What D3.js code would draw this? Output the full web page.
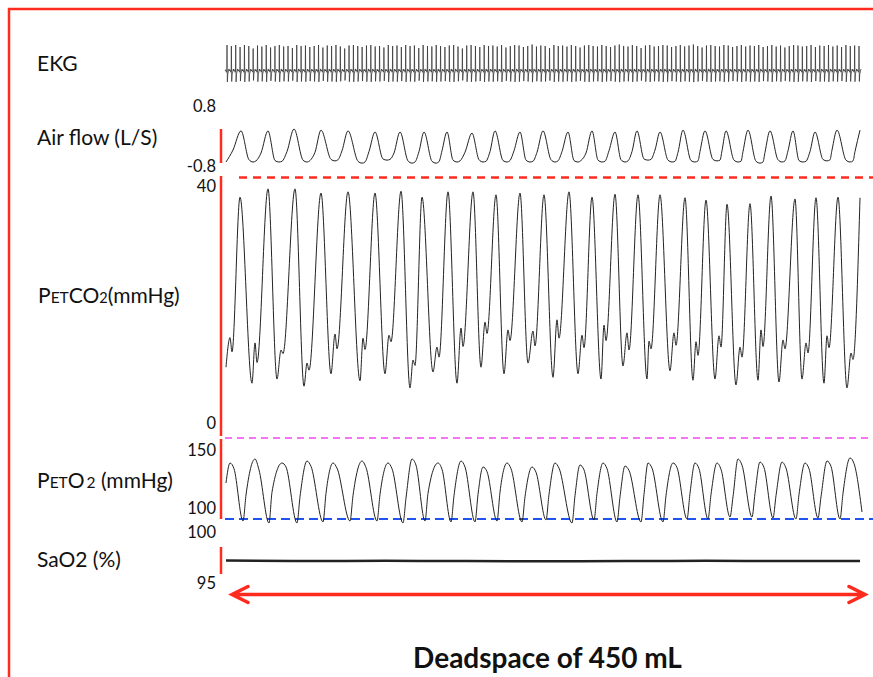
<!DOCTYPE html>
<html>
<head>
<meta charset="utf-8">
<script src="https://cdn.jsdelivr.net/npm/d3@7"></script>
<style>
  body { margin: 0; background: #fff; }
  svg { display: block; font-family: Lato, "Open Sans", sans-serif; }
</style>
</head>
<body>
<div class="plot"></div>
<script>
// time axis: seconds from start of the recording (0 - 63.4 s)

// EKG: R-wave amplitude (mV) of each beat, left to right
const ekgR = [
  1.04, 1.0, 1.04, 0.96, 1.04, 1.0, 0.9, 1.02, 0.98, 1.04, 0.94, 1.0, 1.04, 0.98, 1.0, 0.92, 1.04, 1.0, 1.02, 0.96,
  1.0, 1.04, 0.94, 1.02, 1.0, 1.04, 0.98, 0.9, 1.02, 1.04, 1.0, 0.96, 1.02, 1.04, 0.98, 1.0, 0.94, 1.04, 1.0, 1.02,
  0.96, 1.04, 1.0, 1.02, 0.92, 1.04, 1.0, 0.98, 1.04, 1.0, 0.96, 1.02, 1.04, 0.98, 0.9, 1.02, 1.04, 1.0, 0.96, 1.04,
  1.0, 1.02, 0.98, 1.04, 0.94, 1.0, 1.04, 1.02, 0.96, 1.0, 1.06, 0.98, 1.02, 1.0, 0.92, 1.04, 1.0, 1.02, 0.98, 1.04,
  1.0, 0.94, 1.02, 1.04, 1.0, 0.98, 1.04, 1.0, 0.96, 1.02, 1.06, 1.0, 0.98, 1.04, 1.0, 0.92, 1.02, 1.04, 0.98, 1.0,
  1.04, 1.02, 0.96, 1.0, 1.04, 0.98, 1.02, 1.06, 1.0, 0.94, 1.02, 1.04, 1.0, 0.98, 1.04, 1.02, 0.96, 1.0, 1.04, 0.98,
  1.02, 1.0, 1.04, 0.96, 1.0, 1.04, 0.98, 1.02, 0.94, 1.0, 1.04, 1.02, 0.98, 1.0, 1.04, 0.96, 1.02, 1.0, 1.04, 0.98,
  1.02, 0.96, 1.04, 1.0, 1.02, 1.0
];
// one beat (phase within the R-R interval, level relative to R)
const beatPhase = [-0.45, -0.3, -0.15, -0.05, 0, 0.08, 0.18, 0.3, 0.45];
const beatLevel = [0, 0.05, -0.05, 0, 1, -0.42, -0.12, -0.04, 0.08];

// Air flow (L/S)
const flowStart = [0, -0.68];
const flowPeakT = [1.5, 4.2, 6.8, 9.5, 12.2, 14.9, 17.4, 19.8, 22.1, 24.6, 26.9, 29.4, 31.7, 34.2, 36.6, 38.9, 41.1, 43.4, 45.7, 47.9, 50.0, 52.2, 54.4, 56.7, 58.9, 61.1, 63.4];
const flowPeakV = [0.15, 0.15, 0.20, 0.17, 0.15, 0.12, 0.12, 0.12, 0.12, 0.09, 0.15, 0.12, 0.15, 0.12, 0.15, 0.12, 0.15, 0.12, 0.17, 0.15, 0.15, 0.17, 0.15, 0.15, 0.12, 0.17, 0.17];
const flowLowStartT = [2.3, 4.9, 7.7, 10.5, 13.2, 15.7, 18.2, 20.6, 22.7, 25.3, 27.7, 30.0, 32.5, 34.8, 37.2, 39.5, 41.8, 44.2, 46.5, 48.7, 50.8, 53.0, 55.2, 57.3, 59.7, 62.0];
const flowLowStartV = [-0.62, -0.64, -0.63, -0.61, -0.66, -0.60, -0.65, -0.66, -0.63, -0.62, -0.64, -0.63, -0.62, -0.64, -0.63, -0.62, -0.60, -0.63, -0.64, -0.61, -0.63, -0.66, -0.62, -0.64, -0.61, -0.63];
const flowTroughT = [2.7, 5.3, 8.1, 10.9, 13.6, 16.1, 18.6, 21.0, 23.1, 25.7, 28.1, 30.4, 32.9, 35.2, 37.6, 39.9, 42.2, 44.6, 46.9, 49.1, 51.2, 53.4, 55.6, 57.7, 60.1, 62.4];
const flowTroughV = [-0.68, -0.68, -0.68, -0.65, -0.71, -0.63, -0.71, -0.71, -0.68, -0.68, -0.68, -0.68, -0.68, -0.68, -0.68, -0.68, -0.63, -0.68, -0.68, -0.65, -0.68, -0.71, -0.68, -0.68, -0.65, -0.68];
const flowLowEndT = [3.0, 5.6, 8.4, 11.2, 13.9, 16.4, 18.9, 21.3, 23.4, 26.0, 28.4, 30.7, 33.2, 35.5, 37.9, 40.2, 42.5, 44.9, 47.2, 49.4, 51.5, 53.7, 55.9, 58.0, 60.4, 62.7];
const flowLowEndV = [-0.65, -0.66, -0.64, -0.62, -0.68, -0.61, -0.68, -0.67, -0.65, -0.66, -0.64, -0.66, -0.65, -0.64, -0.66, -0.65, -0.61, -0.66, -0.65, -0.63, -0.66, -0.68, -0.65, -0.66, -0.62, -0.65];
const flowShoulderT = [0.7, 3.5, 6.1, 8.9, 11.6, 14.3, 16.8, 19.3, 21.6, 23.9, 26.4, 28.8, 31.1, 33.6, 36.0, 38.3, 40.6, 42.9, 45.2, 47.4, 49.6, 51.7, 53.9, 56.2, 58.4, 60.6, 62.9];
const flowShoulderV = [-0.36, -0.44, -0.40, -0.42, -0.38, -0.40, -0.44, -0.40, -0.38, -0.42, -0.40, -0.38, -0.42, -0.40, -0.44, -0.38, -0.40, -0.36, -0.42, -0.40, -0.38, -0.40, -0.42, -0.38, -0.40, -0.36, -0.40];

// PETCO2 (mmHg)
const co2Start = [[0, 9.5], [0.4, 14.5], [0.6, 12.1]];
const co2PeakT = [1.4, 4.2, 6.9, 9.5, 12.2, 14.9, 17.5, 19.6, 22.2, 24.7, 27.0, 29.4, 31.8, 34.3, 36.6, 38.9, 41.2, 43.4, 45.9, 48.0, 50.1, 52.4, 54.5, 56.9, 59.0, 61.2, 63.4];
const co2PeakV = [38.2, 39.6, 39.6, 38.9, 39.1, 38.9, 39.2, 38.2, 39.1, 39.1, 38.6, 38.9, 38.6, 39.1, 38.2, 38.7, 38.6, 38.6, 38.1, 37.7, 37.0, 37.1, 38.4, 37.9, 38.1, 38.2, 38.1];
const co2TroughT = [2.6, 5.1, 7.8, 10.5, 13.4, 15.9, 18.4, 20.7, 23.1, 25.5, 27.8, 30.2, 32.7, 35.2, 37.5, 39.7, 42.1, 44.4, 46.7, 48.9, 51.0, 53.2, 55.3, 57.6, 59.8, 62.1];
const co2TroughV = [6.8, 7.5, 6.3, 8.4, 7.2, 8.4, 6.0, 8.7, 6.8, 9.5, 8.4, 10.2, 7.8, 8.4, 7.5, 9.7, 7.5, 8.9, 7.3, 7.5, 6.5, 7.3, 7.0, 7.5, 6.8, 6.0];
const co2BumpT = [2.9, 5.5, 8.1, 10.9, 13.7, 16.3, 18.7, 21.1, 23.5, 25.9, 28.2, 30.7, 33.1, 35.6, 37.8, 40.1, 42.3, 44.8, 47.0, 49.3, 51.4, 53.5, 55.7, 58.0, 60.1, 62.5];
const co2BumpV = [13.6, 12.4, 10.2, 15.1, 14.4, 14.9, 10.7, 12.9, 16.1, 17.1, 15.8, 15.6, 17.5, 14.9, 16.6, 15.3, 13.9, 15.3, 13.8, 14.8, 12.9, 15.8, 14.1, 13.6, 14.8, 11.9];
const co2DipT = [3.1, 5.7, 8.3, 11.1, 13.9, 16.5, 18.9, 21.3, 23.7, 26.1, 28.4, 30.9, 33.3, 35.8, 38.0, 40.3, 42.5, 45.0, 47.2, 49.5, 51.6, 53.7, 55.9, 58.2, 60.3, 62.7];
const co2DipV = [10.3, 11.8, 9.0, 12.6, 12.5, 13.8, 9.8, 11.2, 13.0, 15.2, 14.0, 13.1, 14.4, 12.8, 14.0, 12.4, 12.6, 13.2, 11.5, 12.9, 11.2, 13.0, 12.6, 11.9, 12.8, 10.8];

// PETO2 (mmHg)
const o2Ends = [[0, 121.8], [63.6, 97.0]];
const o2PeakT = [0.4, 2.9, 5.6, 8.1, 10.7, 13.6, 16.2, 18.6, 21.2, 23.5, 25.7, 28.1, 30.6, 32.9, 35.4, 37.7, 39.9, 42.2, 44.7, 46.9, 49.1, 51.2, 53.4, 55.6, 57.9, 60.1, 62.4];
const o2PeakV = [138.9, 142.3, 138.9, 140.6, 138.9, 140.6, 138.9, 142.3, 138.9, 140.6, 135.5, 138.9, 135.5, 138.9, 137.2, 138.9, 136.3, 138.9, 138.9, 138.9, 138.9, 142.3, 139.7, 139.7, 138.9, 140.6, 143.2];
const o2PlateauT = [0.8, 3.3, 6.0, 8.5, 11.1, 14.0, 16.6, 19.0, 21.6, 23.9, 26.1, 28.5, 31.0, 33.3, 35.8, 38.1, 40.3, 42.6, 45.1, 47.3, 49.5, 51.6, 53.8, 56.0, 58.3, 60.5, 62.8];
const o2PlateauV = [134.0, 133.0, 135.5, 136.0, 134.5, 135.0, 134.0, 137.0, 133.5, 135.5, 131.5, 134.0, 131.0, 134.5, 133.0, 134.0, 132.5, 134.5, 135.0, 134.0, 133.5, 137.0, 135.0, 134.5, 134.0, 136.0, 138.5];
const o2TroughT = [1.7, 4.3, 7.1, 9.7, 12.4, 15.1, 17.7, 19.9, 22.5, 24.9, 27.1, 29.6, 32.0, 34.6, 36.8, 39.1, 41.5, 43.7, 46.1, 48.2, 50.4, 52.6, 54.7, 57.0, 59.2, 61.4];
const o2TroughV = [89.3, 87.6, 87.6, 88.5, 89.3, 89.3, 87.6, 89.3, 88.5, 88.5, 89.3, 88.5, 90.2, 87.6, 90.2, 88.5, 88.5, 88.5, 91.0, 91.0, 92.7, 92.7, 91.9, 91.0, 91.9, 91.0];
const o2KneeT = [2.0, 4.6, 7.4, 10.0, 12.7, 15.4, 18.0, 20.2, 22.8, 25.2, 27.4, 29.9, 32.3, 34.9, 37.1, 39.4, 41.8, 44.0, 46.4, 48.5, 50.7, 52.9, 55.0, 57.3, 59.5, 61.7];
const o2KneeV = [111.5, 114, 110, 113, 111, 112, 109, 113, 111, 112, 114, 110, 112, 111, 113, 110, 112, 111, 113, 112, 110, 113, 111, 112, 110, 113];

// SaO2 (%)
const saT = [0, 8, 16, 24, 32, 40, 48, 56, 63.4];
const saV = [97.25, 97.2, 97.22, 97.2, 97.18, 97.2, 97.22, 97.2, 97.2];

// tick labels
const flowTicks = [-0.8, 0.8];
const co2Ticks = [0, 40];
const o2Ticks = [100, 150];
const saTicks = [95, 100];

const width = 873, height = 677;
const red = "#ff2b1f";

const svg = d3.select(".plot").append("svg")
    .attr("width", width)
    .attr("height", height);

const x = d3.scaleLinear().domain([0, 63.4]).range([226, 860]);
const yEkg = d3.scaleLinear().domain([0, 1]).range([71, 46]);
const yFlow = d3.scaleLinear().domain([-0.8, 0.8]).range([166.5, 106.5]);
const yCO2 = d3.scaleLinear().domain([0, 40]).range([423.5, 186.5]);
const yO2 = d3.scaleLinear().domain([100, 150]).range([508.5, 450]);
const ySa = d3.scaleLinear().domain([95, 100]).range([583.5, 532.5]);

function pairs(ts, vs) {
    return ts.map(function(t, i) { return [t, vs[i]]; });
}
function merge() {
    return [].concat.apply([], arguments).sort(function(a, b) { return a[0] - b[0]; });
}

// frame
svg.append("line").attr("x1", 8).attr("x2", width).attr("y1", 9).attr("y2", 9)
    .attr("stroke", red).attr("stroke-width", 2.5);
svg.append("line").attr("x1", 9).attr("x2", 9).attr("y1", 8).attr("y2", height)
    .attr("stroke", red).attr("stroke-width", 2.5);

// dashed reference lines
svg.append("line").attr("x1", 239).attr("x2", width).attr("y1", yCO2(41.5)).attr("y2", yCO2(41.5))
    .attr("stroke", red).attr("stroke-width", 2.5).attr("stroke-dasharray", "8,6");
svg.append("line").attr("x1", 225).attr("x2", width).attr("y1", 438).attr("y2", 438)
    .attr("stroke", "#f545f0").attr("stroke-width", 1.6).attr("stroke-dasharray", "7,5");
svg.append("line").attr("x1", 225).attr("x2", width).attr("y1", 519).attr("y2", 519)
    .attr("stroke", "#1f55ee").attr("stroke-width", 2).attr("stroke-dasharray", "9,5");

// red axis bars
[[129, 163], [176, 436], [439, 519], [547, 574]].forEach(function(s) {
    svg.append("line").attr("x1", 221).attr("x2", 221).attr("y1", s[0]).attr("y2", s[1])
        .attr("stroke", red).attr("stroke-width", 2.5);
});

// tick labels
function ticks(scale, values) {
    const g = svg.append("g")
        .attr("transform", "translate(216,0)")
        .call(d3.axisLeft(scale).tickValues(values).tickSize(0).tickPadding(0)
            .tickFormat(function(d) { return String(d); }));
    g.select(".domain").remove();
    g.attr("font-family", null).attr("font-size", 16.5);
    g.selectAll("text").attr("fill", "#111");
}
ticks(yFlow, flowTicks);
ticks(yCO2, co2Ticks);
ticks(yO2, o2Ticks);
ticks(ySa, saTicks);

// EKG
const beatX = d3.scalePoint().domain(d3.range(ekgR.length)).range([227, 859]);
const step = beatX.step();
const ekgPts = [];
ekgR.forEach(function(r, i) {
    beatPhase.forEach(function(p, j) {
        ekgPts.push([beatX(i) + p * step, beatLevel[j] * r]);
    });
});
svg.append("path")
    .attr("d", d3.line().x(function(d) { return d[0]; }).y(function(d) { return yEkg(d[1]); })(ekgPts))
    .attr("fill", "none").attr("stroke", "#2a2a2a").attr("stroke-width", 0.7);

// breathing traces
function trace(data, y, w) {
    const line = d3.line()
        .x(function(d) { return x(d[0]); })
        .y(function(d) { return y(d[1]); })
        .curve(d3.curveMonotoneX);
    svg.append("path").attr("d", line(data))
        .attr("fill", "none").attr("stroke", "#222").attr("stroke-width", w || 1);
}
trace(merge([flowStart], pairs(flowPeakT, flowPeakV), pairs(flowLowStartT, flowLowStartV),
    pairs(flowTroughT, flowTroughV), pairs(flowLowEndT, flowLowEndV),
    pairs(flowShoulderT, flowShoulderV)), yFlow);
trace(merge(co2Start, pairs(co2PeakT, co2PeakV), pairs(co2TroughT, co2TroughV),
    pairs(co2BumpT, co2BumpV), pairs(co2DipT, co2DipV)), yCO2);
trace(merge(o2Ends, pairs(o2PeakT, o2PeakV), pairs(o2PlateauT, o2PlateauV),
    pairs(o2TroughT, o2TroughV), pairs(o2KneeT, o2KneeV)), yO2);
trace(pairs(saT, saV), ySa, 2.5);

// channel names
const labels = svg.append("g").attr("font-size", 21).attr("fill", "#111");
labels.append("text").attr("x", 37).attr("y", 71).text("EKG");
labels.append("text").attr("x", 37).attr("y", 145).text("Air flow (L/S)");
const co2Label = labels.append("text").attr("x", 38).attr("y", 303);
co2Label.append("tspan").text("P");
co2Label.append("tspan").attr("font-size", 15.5).text("ET");
co2Label.append("tspan").text("CO");
co2Label.append("tspan").attr("font-size", 14.5).text("2");
co2Label.append("tspan").text("(mmHg)");
const o2Label = labels.append("text").attr("x", 37).attr("y", 488);
o2Label.append("tspan").text("P");
o2Label.append("tspan").attr("font-size", 15.5).text("ET");
o2Label.append("tspan").text("O");
o2Label.append("tspan").attr("font-size", 15.5).attr("dx", 2).text("2");
o2Label.append("tspan").text(" (mmHg)");
labels.append("text").attr("x", 37).attr("y", 567).text("SaO2 (%)");

// duration arrow
const ay = 594.5;
svg.append("path")
    .attr("d", "M" + x(0.6) + "," + ay + "H" + x(63.9)
        + "M" + (x(0.6) + 16) + "," + (ay - 8) + "L" + x(0.6) + "," + ay + "L" + (x(0.6) + 16) + "," + (ay + 8)
        + "M" + (x(63.9) - 16) + "," + (ay - 8) + "L" + x(63.9) + "," + ay + "L" + (x(63.9) - 16) + "," + (ay + 8))
    .attr("fill", "none").attr("stroke", red).attr("stroke-width", 3.5)
    .attr("stroke-linejoin", "miter").attr("stroke-linecap", "round");

svg.append("text")
    .attr("x", 547.5).attr("y", 668)
    .attr("text-anchor", "middle")
    .attr("font-size", 28).attr("font-weight", "bold").attr("fill", "#111")
    .text("Deadspace of 450 mL");
</script>
</body>
</html>
